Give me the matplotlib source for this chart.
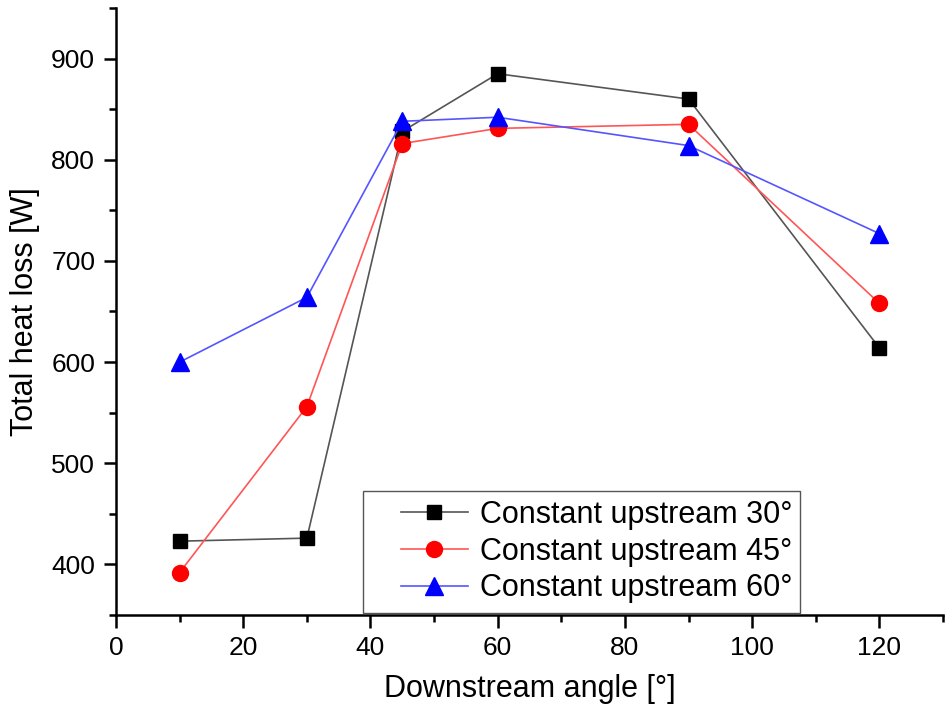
import matplotlib
matplotlib.use('Agg')
import matplotlib.pyplot as plt
from matplotlib.patches import Rectangle
from matplotlib.ticker import MultipleLocator

plt.rcParams['font.family'] = ['Liberation Sans', 'DejaVu Sans']

# downstream angle [deg] vs total heat loss [W]
angle = [10, 30, 45, 60, 90, 120]
loss_up30 = [423, 426, 828, 885, 860, 614]
loss_up45 = [392, 556, 816, 831, 835, 658]
loss_up60 = [600, 664, 838, 842, 814, 727]
labels = ['Constant upstream 30°', 'Constant upstream 45°', 'Constant upstream 60°']


def main():
    fig = plt.figure(figsize=(9.48, 7.12), dpi=100)
    ax = fig.add_axes([0.1224, 0.1362, 0.8723, 0.8526])

    ax.plot(angle, loss_up30, color='#555555', lw=1.2, marker='s', ms=10.5,
            mfc='black', mec='black', label=labels[0])
    ax.plot(angle, loss_up45, color='#ff5555', lw=1.2, marker='o', ms=11.5,
            mfc='red', mec='red', label=labels[1])
    ax.plot(angle, loss_up60, color='#5555ff', lw=1.2, marker='^', ms=12.5,
            mfc='blue', mec='blue', label=labels[2])

    ax.set_xlim(0, 130)
    ax.set_ylim(350, 950)
    ax.xaxis.set_major_locator(MultipleLocator(20))
    ax.xaxis.set_minor_locator(MultipleLocator(10))
    ax.yaxis.set_major_locator(MultipleLocator(100))
    ax.yaxis.set_minor_locator(MultipleLocator(50))

    for s in ['top', 'right']:
        ax.spines[s].set_visible(False)
    for s in ['left', 'bottom']:
        ax.spines[s].set_linewidth(1.8)
    ax.tick_params(which='major', length=9, width=1.8, labelsize=19, pad=6)
    ax.tick_params(which='minor', length=5, width=1.8)

    ax.set_xlabel('Downstream angle [°]', fontsize=22, labelpad=10)
    ax.set_ylabel('Total heat loss [W]', fontsize=22, labelpad=8)

    # legend box drawn by hand so the entries can sit with a wider left margin
    box = Rectangle((0.2987, 0.0033), 0.5284, 0.2010, transform=ax.transAxes,
                    facecolor='white', edgecolor='#555555', lw=1.0, zorder=4)
    ax.add_patch(box)
    leg = ax.legend(loc='lower left', bbox_to_anchor=(0.333, 0.004),
                    borderaxespad=0, fontsize=22, frameon=False,
                    handlelength=2.2, borderpad=0.3, labelspacing=0.22,
                    handletextpad=0.4)
    leg.set_zorder(5)

    fig.savefig('out.png', dpi=100)


if __name__ == '__main__':
    main()
